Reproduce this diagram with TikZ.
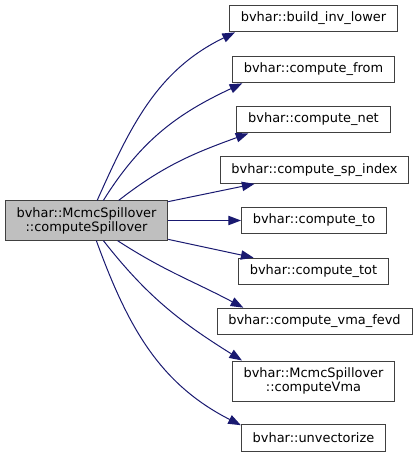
\documentclass[tikz,border=0pt]{standalone}
\usepackage{fontspec}
\setmainfont{DejaVu Sans}
\usetikzlibrary{arrows.meta}
\definecolor{edgeBlue}{RGB}{25,25,112}
\definecolor{boxGray}{RGB}{191,191,191}
\definecolor{lineGray}{RGB}{64,64,64}

\begin{document}
\begin{tikzpicture}[
    x=0.75pt, y=-0.75pt,
    % Styles
    fn/.style={
        draw=lineGray,
        line width=0.75pt,
        fill=white,
        align=center,
        font=\fontsize{9.7}{10.5}\selectfont,
        inner xsep=8.5pt,
        inner ysep=0pt,
        minimum height=20pt
    },
    root/.style={
        fn,
        fill=boxGray,
        minimum height=29.5pt
    },
    arrow/.style={-{Triangle[length=9.5pt,width=7pt]}, line width=0.75pt, color=edgeBlue}
]
    \useasboundingbox (0,0) rectangle (417,459);

    % ---------------------------------------------------------
    % 1. LEFT: CALLER
    % ---------------------------------------------------------
    \node[root] (spill) at (86.5,220.5) {bvhar::McmcSpillover\\::computeSpillover};

    % ---------------------------------------------------------
    % 2. RIGHT: CALLEES (one column)
    % ---------------------------------------------------------
    \node[fn] (invlower) at (313.5,18.5)  {bvhar::build\_inv\_lower};
    \node[fn] (from)     at (313.5,69.5)  {bvhar::compute\_from};
    \node[fn] (net)      at (313.5,119.5) {bvhar::compute\_net};
    \node[fn] (spindex)  at (314.5,170)   {bvhar::compute\_sp\_index};
    \node[fn] (to)       at (314,220.5)   {bvhar::compute\_to};
    \node[fn] (tot)      at (313.5,271.5) {bvhar::compute\_tot};
    \node[fn] (fevd)     at (314.5,321.5) {bvhar::compute\_vma\_fevd};
    \node[fn, minimum height=30pt] (vma) at (313.5,381) {bvhar::McmcSpillover\\::computeVma};
    \node[fn] (unvec)    at (313.5,438)   {bvhar::unvectorize};

    % ---------------------------------------------------------
    % CONNECTIONS
    % ---------------------------------------------------------
    \draw[arrow] (spill.62)  to[out=66, in=206] (invlower.190);
    \draw[arrow] (spill.50)  to[out=58, in=205] (from.191);
    \draw[arrow] (spill.32)  to[out=38, in=200] (net.192);
    \draw[arrow] (spill.13)  -- (spindex.193);
    \draw[arrow] (spill.east) -- (to.west);
    \draw[arrow] (spill.-13) -- (tot.167);
    \draw[arrow] (spill.-33) to[out=-33, in=152] (fevd.169);
    \draw[arrow] (spill.-50) to[out=-52, in=148] (vma.164);
    \draw[arrow] (spill.-64) to[out=-70, in=153] (unvec.170);

\end{tikzpicture}
\end{document}
